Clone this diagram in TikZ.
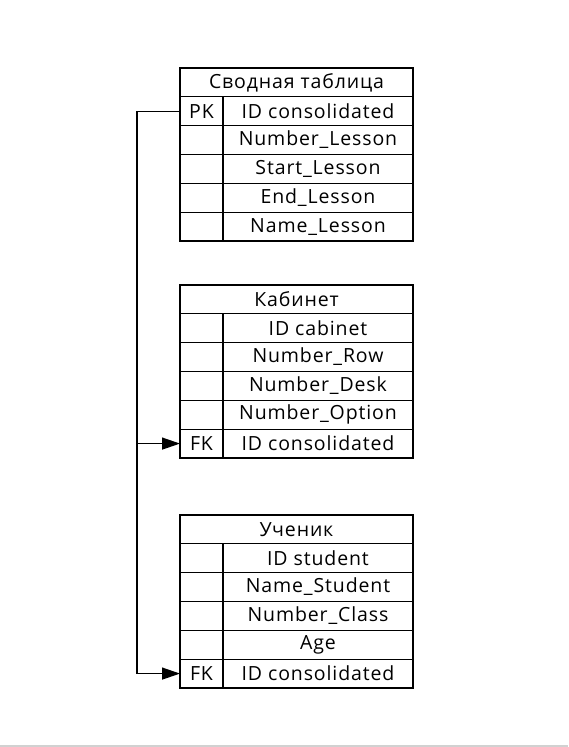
\documentclass[tikz,border=0pt]{standalone}
\usepackage{fontspec}
\setmainfont{Open Sans}
\newfontfamily\erfont[LetterSpace=4.5]{Open Sans}
\usetikzlibrary{arrows.meta}
\begin{document}
\begin{tikzpicture}[x=1pt,y=-1pt,
  cell/.style={draw, line width=1.3pt, minimum height=28.83pt, inner sep=0pt, outer sep=0pt, anchor=north west, font=\erfont\fontsize{19.5}{23}\selectfont},
  keycell/.style={cell, minimum width=43pt},
  fldcell/.style={cell, minimum width=190pt},
  hdrcell/.style={cell, minimum width=233pt},
  link/.style={line width=1.3pt},
  fkarrow/.style={link, -{Triangle[length=18pt,width=12pt]}}]
\useasboundingbox (0,0) rectangle (568,747);
\fill[white] (0,0) rectangle (568,747);
\fill[black!18] (0,745) rectangle (568,747);
% Table 1
\node[hdrcell] (t1h) at (180,68) {Сводная таблица};
\node[keycell] (t1k1) at (180,96.83) {PK};
\node[fldcell] (t1f1) at (223,96.83) {ID consolidated};
\node[keycell] (t1k2) at (180,125.66) {};
\node[fldcell] (t1f2) at (223,125.66) {Number\_Lesson};
\node[keycell] (t1k3) at (180,154.49) {};
\node[fldcell] (t1f3) at (223,154.49) {Start\_Lesson};
\node[keycell] (t1k4) at (180,183.32) {};
\node[fldcell] (t1f4) at (223,183.32) {End\_Lesson};
\node[keycell] (t1k5) at (180,212.15) {};
\node[fldcell] (t1f5) at (223,212.15) {Name\_Lesson};
% Table 2
\node[hdrcell] (t2h) at (180,285) {Кабинет};
\node[keycell] (t2k1) at (180,313.83) {};
\node[fldcell] (t2f1) at (223,313.83) {ID cabinet};
\node[keycell] (t2k2) at (180,342.66) {};
\node[fldcell] (t2f2) at (223,342.66) {Number\_Row};
\node[keycell] (t2k3) at (180,371.49) {};
\node[fldcell] (t2f3) at (223,371.49) {Number\_Desk};
\node[keycell] (t2k4) at (180,400.32) {};
\node[fldcell] (t2f4) at (223,400.32) {Number\_Option};
\node[keycell] (t2k5) at (180,429.15) {FK};
\node[fldcell] (t2f5) at (223,429.15) {ID consolidated};
% Table 3
\node[hdrcell] (t3h) at (180,515) {Ученик};
\node[keycell] (t3k1) at (180,543.83) {};
\node[fldcell] (t3f1) at (223,543.83) {ID student};
\node[keycell] (t3k2) at (180,572.66) {};
\node[fldcell] (t3f2) at (223,572.66) {Name\_Student};
\node[keycell] (t3k3) at (180,601.49) {};
\node[fldcell] (t3f3) at (223,601.49) {Number\_Class};
\node[keycell] (t3k4) at (180,630.32) {};
\node[fldcell] (t3f4) at (223,630.32) {Age};
\node[keycell] (t3k5) at (180,659.15) {FK};
\node[fldcell] (t3f5) at (223,659.15) {ID consolidated};
% Connectors
\coordinate (bus) at (137,0);
\draw[link] (t1k1.west) -- (t1k1.west -| bus) -- (t3k5.west -| bus);
\draw[fkarrow] (t2k5.west -| bus) -- (t2k5.west);
\draw[fkarrow] (t3k5.west -| bus) -- (t3k5.west);
\end{tikzpicture}
\end{document}
